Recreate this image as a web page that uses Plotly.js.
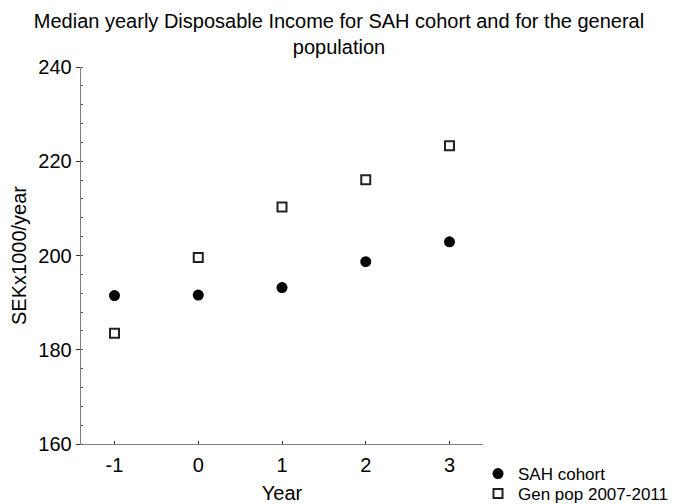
<!DOCTYPE html>
<html>
<head>
<meta charset="utf-8">
<script src="https://cdn.plot.ly/plotly-3.0.1.min.js"></script>
<style>html,body{margin:0;padding:0;background:#fff;}#chart{width:678px;height:504px;}</style>
</head>
<body>
<div id="chart"></div>
<script>
const years = [-1, 0, 1, 2, 3];
const sahCohort = [191.5, 191.6, 193.2, 198.7, 202.9];
const genPop = [183.5, 199.6, 210.3, 216.1, 223.3];
const seriesNames = ["SAH cohort", "Gen pop 2007-2011"];
const yTicks = [160, 180, 200, 220, 240];
const xTicks = [-1, 0, 1, 2, 3];

const FONT = "Liberation Sans, Arial, sans-serif";

const traces = [
  {
    x: years, y: sahCohort, name: seriesNames[0], type: "scatter", mode: "markers",
    legend: "legend",
    marker: {symbol: "circle", size: 11, color: "#000000", line: {width: 0}}
  },
  {
    x: years, y: genPop, name: seriesNames[1], type: "scatter", mode: "markers",
    legend: "legend2",
    marker: {symbol: "square-open", size: 9, color: "#222222", line: {width: 2}}
  }
];

const legendFont = {family: FONT, size: 17, color: "#000000"};

const layout = {
  width: 678, height: 504,
  margin: {l: 81, r: 195, t: 67, b: 60, pad: 0, autoexpand: false},
  paper_bgcolor: "#ffffff", plot_bgcolor: "#ffffff",
  font: {family: FONT, color: "#000000", size: 16},
  title: {
    text: "Median yearly Disposable Income for SAH cohort and for the general<br>population",
    font: {family: FONT, size: 20, color: "#000000"},
    x: 0.5, xanchor: "center", xref: "container", yref: "container", y: 0.9444, yanchor: "middle"
  },
  xaxis: {
    range: [-1.4, 3.4], tickvals: xTicks, ticktext: xTicks.map(String),
    showgrid: false, zeroline: false, showline: true, linecolor: "#7f7f7f", linewidth: 1.3,
    ticks: "inside", ticklen: 3, tickcolor: "#333333", tickwidth: 1, ticklabelstandoff: 3,
    tickfont: {family: FONT, size: 20, color: "#000000"},
    title: {text: "Year", font: {family: FONT, size: 20, color: "#000000"}, standoff: 12}
  },
  yaxis: {
    range: [160, 240], tickvals: yTicks, ticktext: yTicks.map(String),
    showgrid: false, zeroline: false, showline: true, linecolor: "#7f7f7f", linewidth: 1.3,
    ticks: "outside", ticklen: 4, tickcolor: "#333333", tickwidth: 1,
    tickfont: {family: FONT, size: 20, color: "#000000"},
    minor: {dtick: 4, ticks: "inside", ticklen: 2, tickcolor: "#555555", tickwidth: 1, showgrid: false},
    title: {text: "SEKx1000/year", font: {family: FONT, size: 20, color: "#000000"}, standoff: 6}
  },
  showlegend: true,
  legend: {
    x: 0.9876, xanchor: "left", y: -0.0796, yanchor: "middle",
    font: legendFont, bgcolor: "rgba(0,0,0,0)", borderwidth: 0, itemwidth: 30
  },
  legend2: {
    x: 0.9876, xanchor: "left", y: -0.1326, yanchor: "middle",
    font: legendFont, bgcolor: "rgba(0,0,0,0)", borderwidth: 0, itemwidth: 30
  }
};

Plotly.newPlot("chart", traces, layout, {displayModeBar: false, staticPlot: true});
</script>
</body>
</html>
